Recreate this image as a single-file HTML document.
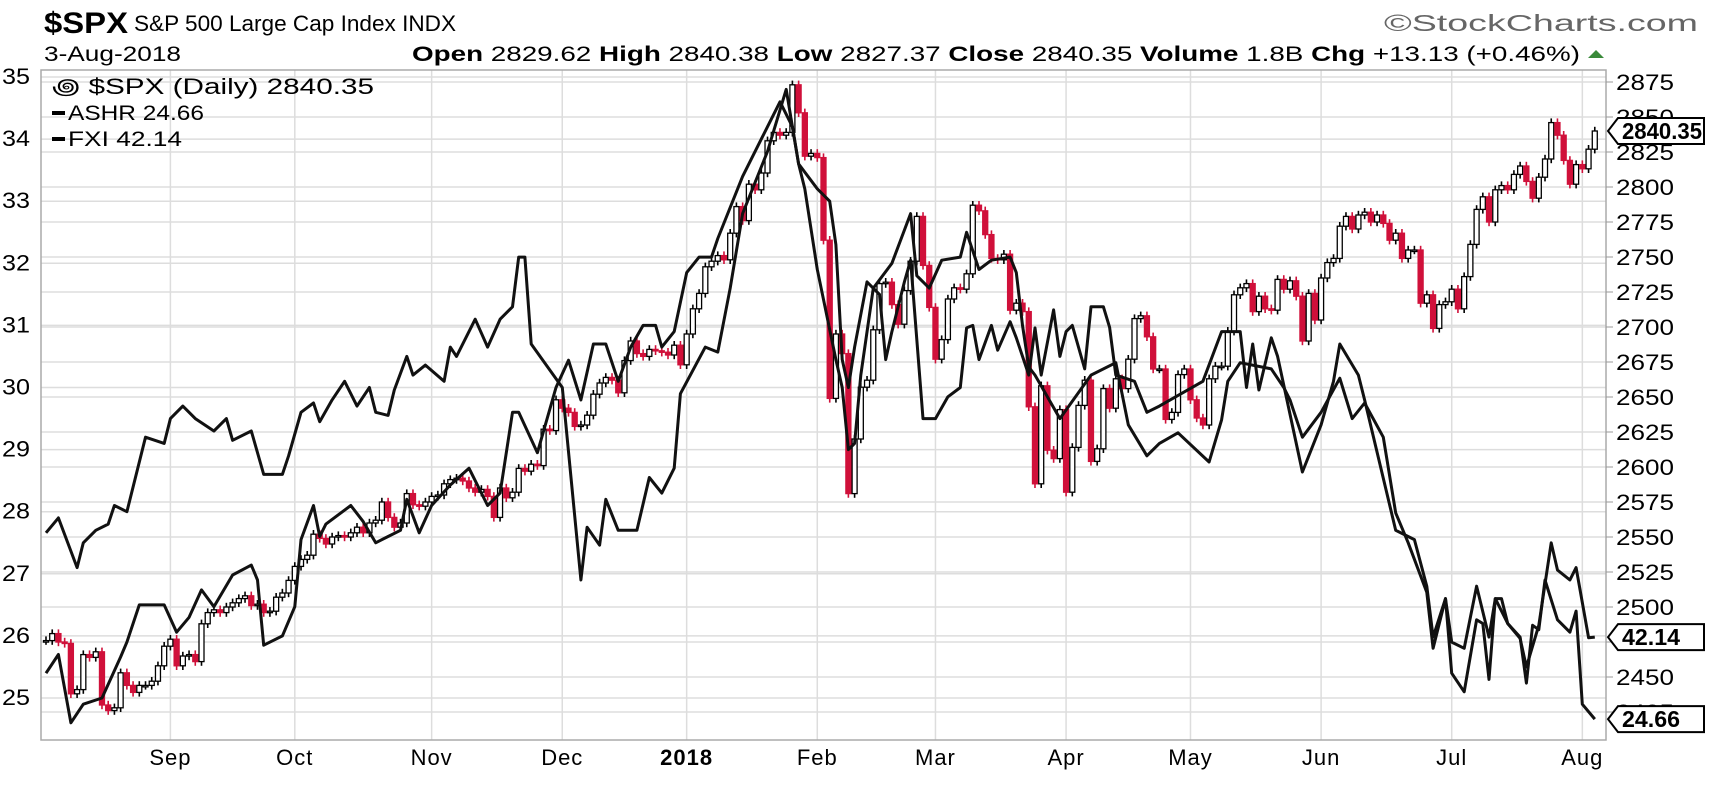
<!DOCTYPE html>
<html><head><meta charset="utf-8">
<style>
html,body{margin:0;padding:0;background:#fff;}
body{width:1720px;height:789px;overflow:hidden;font-family:"Liberation Sans",sans-serif;}
svg text{font-family:"Liberation Sans",sans-serif;}
</style></head>
<body>
<svg id="chart" width="1720" height="789" viewBox="0 0 1720 789" xmlns="http://www.w3.org/2000/svg">
  <text x="44" y="33" font-size="30" font-weight="bold" fill="#000" textLength="84" lengthAdjust="spacingAndGlyphs">$SPX</text>
  <text x="134" y="31" font-size="22" fill="#000" textLength="322" lengthAdjust="spacingAndGlyphs">S&amp;P 500 Large Cap Index  INDX</text>
  <text x="1384" y="31" font-size="23" fill="#666" textLength="314" lengthAdjust="spacingAndGlyphs">©StockCharts.com</text>
  <text x="44" y="61" font-size="21" fill="#000" textLength="137" lengthAdjust="spacingAndGlyphs">3-Aug-2018</text>
  <text x="412" y="61" font-size="21" fill="#000" textLength="1168" lengthAdjust="spacingAndGlyphs"><tspan font-weight="bold">Open</tspan> 2829.62  <tspan font-weight="bold">High</tspan> 2840.38  <tspan font-weight="bold">Low</tspan> 2827.37  <tspan font-weight="bold">Close</tspan> 2840.35  <tspan font-weight="bold">Volume</tspan> 1.8B  <tspan font-weight="bold">Chg</tspan> +13.13 (+0.46%)</text>
  <polygon points="1588,58 1604,58 1596,50" fill="#3a8a3a"/>
  <g id="grid"></g>
  <g id="candles"></g>
  <g id="lines"></g>
  <rect x="41" y="70" width="1565" height="670" fill="none" stroke="#aaa" stroke-width="1.5"/>
  <g id="axes"></g>
  <g>
    <text x="52" y="94" font-size="22" fill="#000" textLength="322" lengthAdjust="spacingAndGlyphs">꩜ $SPX (Daily) 2840.35</text>
    <rect x="52" y="111" width="13" height="4" fill="#000"/>
    <text x="68" y="120" font-size="21" fill="#000" textLength="136" lengthAdjust="spacingAndGlyphs">ASHR 24.66</text>
    <rect x="52" y="137" width="13" height="4" fill="#000"/>
    <text x="68" y="146" font-size="21" fill="#000" textLength="114" lengthAdjust="spacingAndGlyphs">FXI 42.14</text>
  </g>
  <g id="tags"></g>
</svg>
<script>
const spxClose=[2476,2481,2475,2474,2438,2441,2466,2464,2468,2430,2426,2428,2453,2444,2439,2444,2444,2447,2458,2472,
2477,2458,2465,2466,2461,2488,2496,2498,2496,2500,2503,2506,2508,2501,2502,2496,2497,2507,2510,2519,
2529,2534,2537,2552,2549,2545,2550,2551,2550,2553,2557,2553,2560,2562,2575,2564,2557,2560,2581,2573,2572,2575,
2579,2580,2588,2591,2592,2590,2585,2582,2584,2579,2564,2585,2578,2582,2599,2597,2602,2601,2627,2626,2648,
2642,2639,2629,2630,2637,2652,2660,2664,2662,2653,2676,2690,2681,2679,2684,2683,2682,2680,2687,2673,
2695,2713,2724,2743,2747,2751,2748,2767,2786,2776,2802,2798,2810,2833,2839,2837,2839,2873,2853,2822,2824,
2821,2762,2649,2695,2681,2581,2620,2657,2662,2698,2731,2732,2716,2702,2726,2747,2779,2744,2714,
2677,2691,2720,2728,2727,2738,2787,2783,2766,2749,2748,2752,2712,2717,2711,2643,2588,2658,2612,2606,2641,
2582,2614,2644,2662,2604,2613,2656,2642,2663,2656,2677,2706,2708,2693,2670,2670,2634,2639,2666,2670,
2648,2635,2630,2663,2672,2672,2697,2723,2728,2731,2711,2722,2713,2712,2734,2727,2733,2722,2690,2724,2705,
2735,2746,2749,2772,2779,2770,2780,2782,2775,2780,2774,2762,2767,2749,2755,2755,2717,2723,2699,2716,2718,
2727,2713,2736,2759,2784,2793,2775,2798,2801,2798,2809,2815,2804,2792,2807,2820,2846,2837,2819,2802,2816,
2813,2827,2840];
const ashrDays=[0,2,5,6,8,10,11,13,16,19,20,22,24,27,29,30,33,35,38,39,41,43,44,46,48,50,52,53,55,56,58,59,61,64,65,66,69,71,73,75,76,77,78,83,86,87,89,90,92,95,97,99,101,102,106,108,110,112,116,119,121,122,124,127,128,129,130,131,133,136,139,140,142,144,147,148,150,152,155,156,157,158,159,163,168,172,174,177,179,182,187,189,190,192,197,199,200,202,205,208,210,212,215,217,219,222,223,225,226,228,230,231,232,233,234,235,237,238,239,240,241,243,245,246,247,249];
const ashrVals=[27.66,27.9,27.1,27.5,27.7,27.8,28.1,28.0,29.2,29.1,29.5,29.7,29.5,29.3,29.5,29.15,29.3,28.6,28.6,28.9,29.6,29.75,29.45,29.8,30.1,29.7,30.0,29.6,29.55,29.96,30.5,30.2,30.36,30.1,30.65,30.5,31.1,30.65,31.1,31.3,32.1,32.1,30.7,30.0,26.9,27.75,27.46,28.2,27.7,27.7,28.55,28.3,28.7,29.9,30.65,30.57,31.6,32.8,33.8,34.8,33.6,33.2,31.9,30.45,30.0,29.0,29.1,30.2,31.6,32.0,32.8,31.8,31.6,32.05,32.1,32.5,31.9,32.05,32.1,31.85,31.0,30.33,30.2,29.5,30.2,30.4,29.4,28.9,29.1,29.27,28.8,29.48,30.1,30.4,30.3,30.0,29.8,29.2,29.6,30.15,29.5,29.75,29.2,27.98,27.5,26.7,25.8,26.6,25.4,25.1,26.26,26.2,25.3,26.6,26.6,26.2,25.98,25.24,26.17,26.1,26.9,26.26,26.06,26.4,24.9,24.66];
const fxiDays=[0,2,4,6,9,12,13,15,17,19,21,23,25,27,30,33,34,35,38,40,41,43,44,45,49,51,53,55,57,58,60,62,65,68,71,73,75,76,79,82,84,86,88,90,92,94,96,98,99,101,103,105,107,108,112,115,118,120,121,124,126,127,128,129,130,132,134,135,136,138,139,141,143,145,147,148,149,150,152,153,155,156,158,159,160,162,163,164,165,167,168,170,171,172,175,177,179,186,189,192,193,194,195,197,198,202,205,207,208,211,212,217,220,222,223,225,226,228,230,232,233,235,237,238,240,242,243,245,246,248,249];
const fxiVals=[25.4,25.7,24.6,24.9,25.0,25.66,25.9,26.5,26.5,26.5,26.06,26.3,26.74,26.47,26.98,27.14,26.9,25.85,26.0,26.47,27.55,28.1,27.6,27.8,28.1,27.84,27.5,27.6,27.7,28.2,27.66,28.1,28.43,28.7,28.1,28.3,29.6,29.6,28.95,30.0,30.44,29.8,30.7,30.7,30.1,30.65,31.0,31.0,30.65,30.9,31.85,32.1,32.1,32.4,33.4,34.0,34.6,34.2,33.6,33.2,33.0,32.3,30.45,30.0,30.65,31.7,31.5,30.45,30.9,31.7,32.05,29.5,29.5,29.85,30.0,30.96,31.0,30.45,31.0,30.6,31.06,30.8,30.2,30.96,30.2,31.25,30.5,30.9,31.0,30.3,31.3,31.3,30.97,30.2,30.1,29.6,29.7,30.1,30.9,30.9,30.0,30.7,29.96,30.8,30.5,28.64,29.4,30.1,30.7,30.2,29.8,27.7,27.55,26.8,25.98,26.6,25.9,25.8,26.8,25.98,26.6,26.2,25.96,25.5,26.17,27.5,27.06,26.9,27.1,25.97,25.98];
const rightTicks=[2425,2450,2475,2500,2525,2550,2575,2600,2625,2650,2675,2700,2725,2750,2775,2800,2825,2850,2875];
const leftTicks=[25,26,27,28,29,30,31,32,33,34,35];
const monthLabels=["Sep","Oct","Nov","Dec","2018","Feb","Mar","Apr","May","Jun","Jul","Aug"];
const monthDays=[20,40,62,83,103,124,143,164,184,205,226,247];

const NS="http://www.w3.org/2000/svg";
const X=i=>46+i*6.22;
const YR=v=>82+(2875-v)*1.4;
const YL=v=>77+(35-v)*62.1;
function mk(t,a,p){const e=document.createElementNS(NS,t);for(const k in a)e.setAttribute(k,a[k]);p.appendChild(e);return e;}
const grid=document.getElementById('grid'),axes=document.getElementById('axes');
rightTicks.forEach(v=>{
  const l=mk('line',{x1:41,x2:1606,y1:YR(v),y2:YR(v),stroke:'#ddd','stroke-width':1.5},grid);
  
  
  const tk=mk('line',{x1:1606,x2:1613,y1:YR(v),y2:YR(v),stroke:'#999'},axes);
  
  
  const t=mk('text',{x:1616,y:YR(v)+8,'font-size':22,fill:'#000',textLength:58,lengthAdjust:'spacingAndGlyphs'},axes);t.textContent=v;
  
  
});
leftTicks.forEach(v=>{
  const l=mk('line',{x1:41,x2:1606,y1:YL(v),y2:YL(v),stroke:'#ddd','stroke-width':1.5},grid);
  
  
  const t=mk('text',{x:2,y:YL(v)+7,'font-size':22,fill:'#000',textLength:28,lengthAdjust:'spacingAndGlyphs'},axes);t.textContent=v;
  
  
});
monthLabels.forEach((m,k)=>{
  const x=X(monthDays[k]);
  const l=mk('line',{x1:x,x2:x,y1:70,y2:740,stroke:'#ddd','stroke-width':1.5},grid);
  
  
  const t=mk('text',{x:x,y:765,'font-size':22,fill:'#000','text-anchor':'middle','font-weight':m==='2018'?'bold':'normal','letter-spacing':'1'},axes);t.textContent=m;
  
  
});
const cg=document.getElementById('candles');
spxClose.forEach((c,i)=>{
  const o=i?spxClose[i-1]:c; const up=c>=o;
  const hi=Math.max(o,c)+3, lo=Math.min(o,c)-3;
  const col=(i&&c<spxClose[i-1])?'#d0103a':'#000';
  const x=X(i);
  const g=mk('g',{},cg);
  
  
  mk('line',{x1:x,x2:x,y1:YR(hi),y2:YR(lo),stroke:col,'stroke-width':1.6},g);
  const top=YR(Math.max(o,c)),h=Math.max(1.5,YR(Math.min(o,c))-top);
  mk('rect',{x:x-2.5,y:top,width:5,height:h,fill:up?'#fff':col,stroke:col,'stroke-width':1.3},g);
});
const lg=document.getElementById('lines');
function drawLine(days,vals,name){
  const d=days.map((dd,k)=>(k?'L':'M')+X(dd).toFixed(1)+','+YL(vals[k]).toFixed(1)).join('');
  const p=mk('path',{d:d,fill:'none',stroke:'#111','stroke-width':3,'stroke-linejoin':'round'},lg);
  
  
}
drawLine(ashrDays,ashrVals,'ashr-line');
drawLine(fxiDays,fxiVals,'fxi-line');
const tg=document.getElementById('tags');
function tag(y,txt,name,w){
  const g=mk('g',{},tg);
  
  
  mk('polygon',{points:`1608,${y} 1618,${y-13} 1704,${y-13} 1704,${y+13} 1618,${y+13}`,fill:'#fff',stroke:'#000','stroke-width':2},g);
  const t=mk('text',{x:1622,y:y+8,'font-size':23,'font-weight':'bold',fill:'#000',textLength:w,lengthAdjust:'spacingAndGlyphs'},g);t.textContent=txt;
}
tag(YR(spxClose[spxClose.length-1]),'2840.35','spx-last-tag',80);
tag(YL(fxiVals[fxiVals.length-1]),'42.14','fxi-last-tag',58);
tag(YL(ashrVals[ashrVals.length-1]),'24.66','ashr-last-tag',58);
</script>
</body></html>
